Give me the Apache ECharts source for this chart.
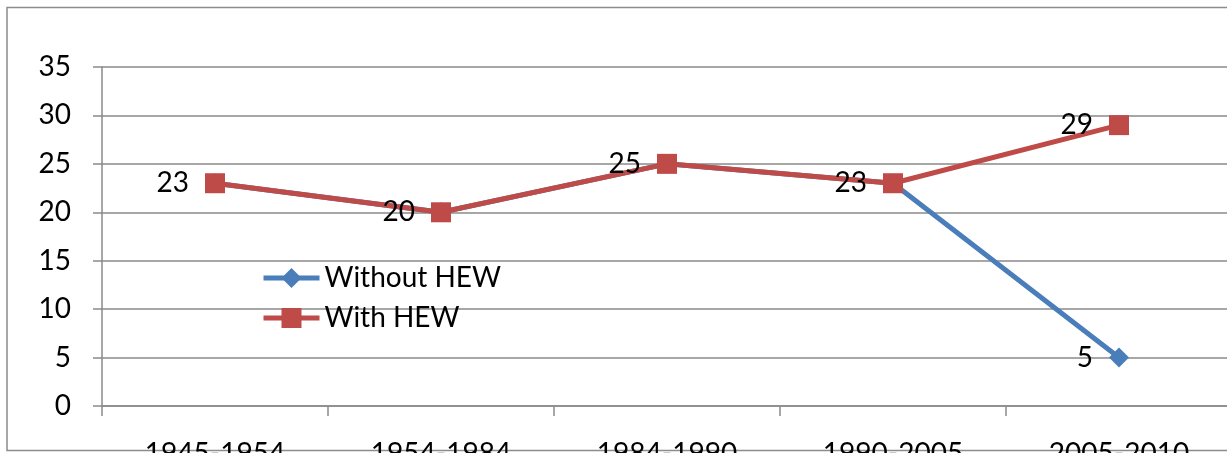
<!DOCTYPE html>
<html>
<head>
<meta charset="utf-8">
<style>
  html, body { margin: 0; padding: 0; background: #fff; }
  #chart { width: 1227px; height: 453px; }
</style>
<script src="https://cdn.jsdelivr.net/npm/echarts@6/dist/echarts.min.js"></script>
</head>
<body>
<div id="chart"></div>
<script>
// Periods on the category axis
const periods = ['1945-1954', '1954-1984', '1984-1990', '1990-2005', '2005-2010'];
// Values per period
const withoutHEW = [23, 20, 25, 23, 5];
const withHEW = [23, 20, 25, 23, 29];
// Value axis ticks
const yMin = 0;
const yMax = 35;
const yStep = 5;

const FONT = 'Lato, "Open Sans", sans-serif';
const GRID = '#8a8a8a';
const BLUE = '#4a7ebb';
const RED = '#be4b48';

const chart = echarts.init(document.getElementById('chart'), null, { renderer: 'canvas' });

chart.setOption({
  animation: false,
  backgroundColor: '#ffffff',
  textStyle: { fontFamily: FONT },
  graphic: [{
    type: 'rect',
    shape: { x: 7, y: 7.5, width: 1300, height: 443 },
    style: { fill: 'none', stroke: '#8c8c8c', lineWidth: 1.5 },
    silent: true,
    z: -1
  }],
  grid: {
    left: 102, right: -5, top: 67, bottom: 47,
    containLabel: false,
    outerBoundsMode: 'none'
  },
  legend: {
    orient: 'vertical',
    left: 256,
    top: 259,
    itemWidth: 56,
    itemHeight: 25,
    itemGap: 12,
    textStyle: { fontFamily: FONT, fontSize: 28, color: '#000' },
    data: [
      { name: 'Without HEW', lineStyle: { width: 5, color: BLUE } },
      { name: 'With HEW', lineStyle: { width: 5, color: RED } }
    ]
  },
  xAxis: {
    type: 'category',
    data: periods,
    boundaryGap: true,
    axisLine: { lineStyle: { color: GRID, width: 1.5 } },
    axisTick: { show: true, length: 10, alignWithLabel: false, lineStyle: { color: GRID, width: 1.5 } },
    axisLabel: { fontFamily: FONT, fontSize: 28, color: '#000', margin: 34, interval: 0 },
    splitLine: { show: false }
  },
  yAxis: {
    type: 'value',
    min: yMin,
    max: yMax,
    interval: yStep,
    axisLine: { show: true, lineStyle: { color: GRID, width: 1.5 } },
    axisTick: { show: true, length: 9, lineStyle: { color: GRID, width: 1.5 } },
    axisLabel: { fontFamily: FONT, fontSize: 28, color: '#000', margin: 31 },
    splitLine: { show: true, lineStyle: { color: GRID, width: 1.5 } }
  },
  series: [
    {
      name: 'Without HEW',
      type: 'line',
      data: withoutHEW.map((v, i) => ({
        value: v,
        label: { show: i === withoutHEW.length - 1 }
      })),
      symbol: 'diamond',
      symbolSize: 20,
      color: BLUE,
      lineStyle: { width: 5, color: BLUE },
      itemStyle: { color: BLUE },
      label: { position: 'left', distance: 16, fontFamily: FONT, fontSize: 28, color: '#000' },
      z: 2
    },
    {
      name: 'With HEW',
      type: 'line',
      data: withHEW,
      symbol: 'rect',
      symbolSize: 20,
      color: RED,
      lineStyle: { width: 5, color: RED },
      itemStyle: { color: RED },
      label: { show: true, position: 'left', distance: 16, fontFamily: FONT, fontSize: 28, color: '#000' },
      z: 3
    }
  ]
});
</script>
</body>
</html>
